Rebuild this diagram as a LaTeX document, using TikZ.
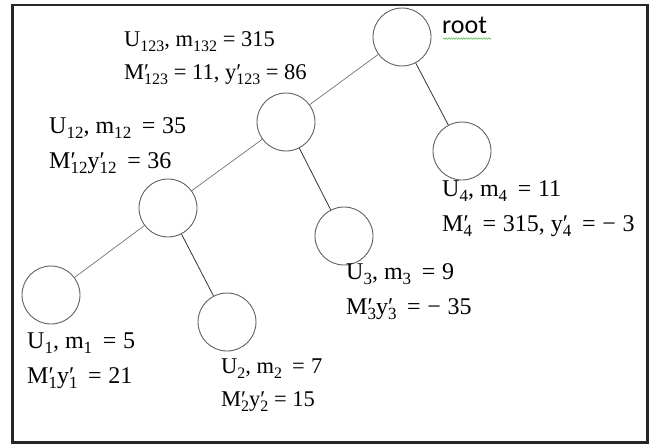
\documentclass[tikz,border=0pt]{standalone}
\usepackage{fontspec}
\setmainfont{Liberation Serif}
\newfontfamily\rootfont{Carlito}
\usetikzlibrary{decorations.pathmorphing}
\newcommand\mysb[1]{\raisebox{-0.21em}{\fontsize{0.71em}{1em}\selectfont #1}}
\newcommand\mypsb[1]{\rlap{′}\mysb{#1}}
\newcommand\eq{\;\,=\;}
\tikzset{
  treenode/.style={circle, draw=black!62, line width=0.9pt, minimum size=58pt, inner sep=0pt},
  lightedge/.style={draw=black!55, line width=0.7pt},
  darkedge/.style={draw=black!80, line width=0.8pt},
  lbl/.style={anchor=west, align=left, inner sep=0pt, font=\fontsize{24}{35}\selectfont},
  smalllbl/.style={lbl, font=\fontsize{22.5}{33}\selectfont},
}
\begin{document}
\begin{tikzpicture}[x=1pt, y=-1pt]
\useasboundingbox (0,0) rectangle (653,444);
\draw[black!85, line width=2.6pt] (12.5,5) rectangle (647.5,442.5);
\node[treenode] (root) at (402,37) {};
\node[treenode] (n123) at (286,122) {};
\node[treenode] (n12) at (168,208) {};
\node[treenode] (n1) at (51,295) {};
\node[treenode] (n2) at (227,322) {};
\node[treenode] (n3) at (344,236) {};
\node[treenode] (n4) at (462,151) {};
\draw[lightedge] (root) -- (n123);
\draw[lightedge] (n123) -- (n12);
\draw[lightedge] (n12) -- (n1);
\draw[darkedge] (root) -- (n4);
\draw[darkedge] (n123) -- (n3);
\draw[darkedge] (n12) -- (n2);
\node[anchor=base west, inner sep=0pt, font=\rootfont\fontsize{26}{30}\selectfont] (rt) at (442,34) {root};
\coordinate (w1) at (443,38.5);
\coordinate (w2) at (491,38.5);
\draw[green!60!black!70, line width=0.5pt, decorate, decoration={snake, amplitude=0.8pt, segment length=2.5pt}] (w1) -- (w2);
\node[smalllbl] (l123) at (124,58) {U\mysb{123}, m\mysb{132} = 315\\M\mypsb{123} = 11, y\mypsb{123} = 86};
\node[lbl] (l12) at (49,146) {U\mysb{12}, m\mysb{12}\eq 35\\M\mypsb{12}y\mypsb{12}\eq 36};
\node[lbl] (l4) at (442,209) {U\mysb{4}, m\mysb{4}\eq 11\\M\mypsb{4}\eq 315, y\mypsb{4}\eq −\;3};
\node[lbl] (l3) at (346,292) {U\mysb{3}, m\mysb{3}\eq 9\\M\mypsb{3}y\mypsb{3}\eq −\;35};
\node[lbl] (l1) at (27,361) {U\mysb{1}, m\mysb{1}\eq 5\\M\mypsb{1}y\mypsb{1}\eq 21};
\node[smalllbl] (l2) at (221,385) {U\mysb{2}, m\mysb{2}\eq 7\\M\mypsb{2}y\mypsb{2} = 15};
\end{tikzpicture}
\end{document}
